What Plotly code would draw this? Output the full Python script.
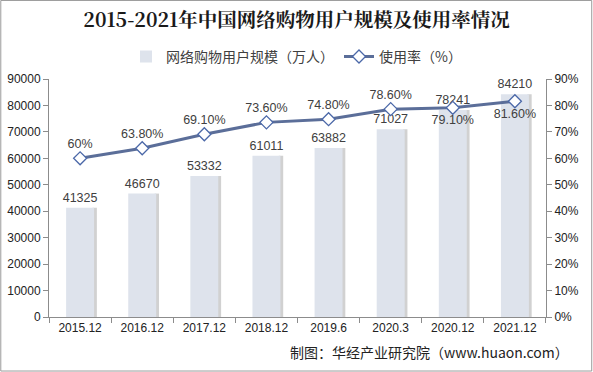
import plotly.graph_objects as go

categories = ["2015.12", "2016.12", "2017.12", "2018.12", "2019.6", "2020.3", "2020.12", "2021.12"]
users = [41325, 46670, 53332, 61011, 63882, 71027, 78241, 84210]
rate = [60, 63.8, 69.1, 73.6, 74.8, 78.6, 79.1, 81.6]
rate_labels = ["60%", "63.80%", "69.10%", "73.60%", "74.80%", "78.60%", "79.10%", "81.60%"]
rate_label_pos = ["top center"] * 6 + ["bottom center"] * 2
left_ticks = list(range(0, 90001, 10000))
right_ticks = list(range(0, 91, 10))

FONT = "Noto Sans CJK SC, Liberation Sans, Arial, sans-serif"
NUMFONT = "Liberation Sans, Arial, sans-serif"
AX = "#8c8c8c"
TXT = "#404040"

fig = go.Figure()

# subtle bar shadow
fig.add_trace(go.Bar(
    x=categories, y=users, width=0.07, offset=0.2,
    marker=dict(color="rgba(90,90,90,0.28)", line=dict(width=0)),
    showlegend=False, hoverinfo="skip",
))
fig.add_trace(go.Bar(
    x=categories, y=users, name="网络购物用户规模（万人）",
    width=0.45, offset=-0.225,
    marker=dict(color="#dee3ec", line=dict(width=0)),
    text=[str(v) for v in users], textposition="outside", constraintext="none",
    textfont=dict(size=12.5, color=TXT, family=NUMFONT),
    cliponaxis=False,
))
fig.add_trace(go.Scatter(
    x=categories, y=rate, yaxis="y2", name="使用率（%）",
    mode="lines+markers+text",
    line=dict(color="#5b6e99", width=3),
    marker=dict(symbol="diamond", size=10, color="white", line=dict(color="#4b68a8", width=1.3)),
    text=rate_labels, textposition=rate_label_pos,
    textfont=dict(size=12.5, color=TXT, family=NUMFONT),
    cliponaxis=False,
))

fig.update_layout(
    width=593, height=372,
    margin=dict(l=49, r=47, t=79, b=55, autoexpand=False),
    paper_bgcolor="white", plot_bgcolor="white",
    font=dict(family=FONT, color=TXT, size=12),
    barmode="overlay",
    title=dict(text="<b>2015-2021年中国网络购物用户规模及使用率情况</b>",
               x=0.5, xanchor="center", y=0.945, yanchor="middle",
               font=dict(size=19.5, color="#1a1a1a", family="Noto Serif CJK SC, Noto Sans CJK SC, serif")),
    legend=dict(orientation="h", x=0.5, xanchor="center", xref="container",
                y=0.847, yanchor="middle", yref="container",
                font=dict(size=14, color=TXT), bgcolor="rgba(0,0,0,0)",
                traceorder="normal"),
    xaxis=dict(
        type="category", showline=True, linecolor=AX, linewidth=1,
        ticks="outside", tickson="boundaries", tickcolor=AX, ticklen=5,
        tickfont=dict(size=12, color="#222", family=NUMFONT),
        showgrid=False, automargin=False,
    ),
    yaxis=dict(
        range=[0, 90000], tickvals=left_ticks, tickformat="d", showline=True, linecolor=AX,
        ticks="outside", tickcolor=AX, ticklen=5, showgrid=False, zeroline=False,
        tickfont=dict(size=12, color="#222", family=NUMFONT), automargin=False,
    ),
    yaxis2=dict(
        range=[0, 90], tickvals=right_ticks, ticktext=[f"{v}%" for v in right_ticks],
        overlaying="y", side="right", showline=True, linecolor=AX,
        ticks="outside", tickcolor=AX, ticklen=5, showgrid=False, zeroline=False,
        tickfont=dict(size=12, color="#222", family=NUMFONT), automargin=False,
    ),
    annotations=[dict(
        text="制图：华经产业研究院（www.huaon.com）", xref="paper", yref="paper",
        x=1.05, y=-0.147, xanchor="right", yanchor="middle", showarrow=False,
        font=dict(size=14, color="#222"),
    )],
    shapes=[dict(type="rect", xref="paper", yref="paper", x0=-0.097, x1=1.092,
                 y0=-0.227, y1=1.33, line=dict(color="#9a9a9a", width=1))],
)

fig.write_html("out.html", config={"displayModeBar": False},
               post_script="document.body.style.margin='0px';document.body.style.padding='0px';")
